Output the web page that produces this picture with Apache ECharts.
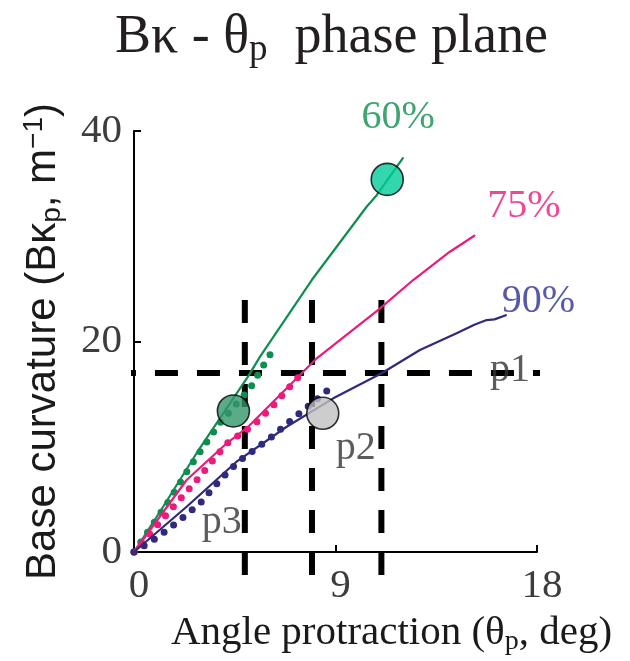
<!DOCTYPE html>
<html>
<head>
<meta charset="utf-8">
<script src="https://cdn.jsdelivr.net/npm/echarts@6/dist/echarts.min.js"></script>
<style>
html,body{margin:0;padding:0;background:#fff;}
#chart{width:630px;height:661px;}
</style>
</head>
<body>
<div id="chart"></div>
<script>
// ---- data ----
const xTicks = [0, 9, 18];
const yTicks = [0, 20, 40];

// measured curves (solid)
const curve60 = [[0,0],[1.30,4.30],[2.80,9.41],[5.09,16.66],[5.63,18.56],[7.94,25.84],[10.39,32.8],[10.84,33.9],[12.01,37.43]];
const curve75 = [[0,0],[2.35,6.84],[4.14,10.33],[5.1,11.9],[7.49,16.98],[8.16,18.4],[10.91,23.0],[12.47,25.84],[14.11,28.53],[15.2,30.05]];
const curve90 = [[0,0],[2.35,4.30],[4.58,8.58],[6.82,11.9],[8.9,14.6],[11.06,16.98],[12.77,19.19],[14.41,20.78],[15.2,21.6],[15.75,22.04],[16.1,22.1],[16.61,22.5]];

// model curves (dotted)
const model60 = [[0,0],[1.6,5.0],[2.5,8.1],[3.3,10.6],[3.85,12.3],[5.2,15.6],[5.8,17.8],[6.15,19.0]];
const model75 = [[0,0],[1.76,4.3],[2.87,7.0],[4.14,10.3],[5.36,12.1],[6.15,13.75],[6.89,15.55],[7.56,17.13]];
const model90 = [[0,0],[1.09,1.45],[2.05,3.04],[2.95,4.63],[3.84,6.84],[4.66,8.58],[6.22,11.05],[6.67,11.9],[7.15,12.76],[7.64,13.6],[8.57,15.23],[8.98,15.87]];

// reference dashed lines
const hLineY = 17;
const hLineX = [-0.94, 19.9];
const vLinesX = [4.95, 7.95, 11.05];
const vLineY = [23.94, -2.19];

// circles: 60% end marker, p3, p2
const circles = [[11.31, 35.4], [4.44, 13.4], [8.43, 13.18]];

// text annotations
const labelTexts = ['60%', '75%', '90%', 'p1', 'p2', 'p3'];
const labelPos = [[11.8, 41.3], [17.42, 32.87], [18.06, 23.78], [16.79, 17.24], [9.91, 9.88], [3.92, 2.76]];

// ---- styles ----
const GREEN = '#0e8e4e', PINK = '#ec1a7a', NAVY = '#2f2a7c';
const circleColors = ['#00cc99', '#33966a', '#c0c0c0'];
const labelColors = [GREEN, PINK, '#2e3192', '#333333', '#333333', '#333333'];
const SERIF = 'Liberation Serif', SANS = 'Liberation Sans';

const series = [];

// dashed reference lines
series.push({
  type: 'line', data: [[hLineX[0], hLineY], [hLineX[1], hLineY]],
  showSymbol: false, clip: false, silent: true, z: 1,
  lineStyle: { color: '#000', width: 6, type: [23, 19] }
});
vLinesX.forEach(function (x) {
  series.push({
    type: 'line', data: [[x, vLineY[0]], [x, vLineY[1]]],
    showSymbol: false, clip: false, silent: true, z: 1,
    lineStyle: { color: '#000', width: 6, type: [23, 19] }
  });
});

// dotted model curves
[[model60, GREEN], [model75, PINK], [model90, NAVY]].forEach(function (p) {
  series.push({
    type: 'line', data: p[0], showSymbol: false, clip: false, z: 2,
    lineStyle: { color: p[1], width: 7, type: [0, 12], cap: 'round', join: 'round' }
  });
});

// solid measured curves
[[curve60, GREEN], [curve75, PINK], [curve90, NAVY]].forEach(function (p) {
  series.push({
    type: 'line', data: p[0], showSymbol: false, clip: false, z: 3,
    lineStyle: { color: p[1], width: 2.2, cap: 'round', join: 'round' }
  });
});

// circles
series.push({
  type: 'scatter', z: 5, symbolSize: 32, clip: false,
  data: circles.map(function (c, i) {
    return { value: c, itemStyle: { color: circleColors[i], borderColor: '#000', borderWidth: 1.6 } };
  })
});

// annotations
series.push({
  type: 'scatter', z: 6, symbolSize: 0, silent: true, clip: false,
  data: labelTexts.map(function (t, i) {
    return {
      value: labelPos[i], name: t,
      label: { show: true, position: 'inside', formatter: t, color: labelColors[i],
               fontFamily: SERIF, fontSize: 40 }
    };
  })
});

const chart = echarts.init(document.getElementById('chart'), null, { renderer: 'canvas' });
chart.setOption({
  animation: false,
  backgroundColor: '#fff',
  title: {
    text: 'Bκ - θ{sub|p}  phase plane',
    left: 110, top: 1,
    textStyle: {
      fontFamily: SERIF, fontSize: 54, fontWeight: 'normal', color: '#231f20',
      rich: { sub: { fontFamily: SERIF, fontSize: 37, color: '#231f20', padding: [26, 0, 0, 0] } }
    }
  },
  grid: { left: 134, top: 131, width: 403, height: 421, containLabel: false },
  xAxis: {
    type: 'value', min: xTicks[0], max: xTicks[2], interval: xTicks[1] - xTicks[0],
    splitLine: { show: false },
    axisLine: { show: true, lineStyle: { color: '#000', width: 2 } },
    axisTick: { show: true, inside: true, length: 7, lineStyle: { color: '#000', width: 2 } },
    axisLabel: { fontFamily: SERIF, fontSize: 41, color: '#3d3d3d', margin: 14, padding: [0, 0, 0, 10] },
    name: 'Angle protraction (θ{sub|p}, deg)',
    nameLocation: 'middle', nameGap: 58,
    nameTextStyle: {
      fontFamily: SERIF, fontSize: 41, color: '#1a1a1a', padding: [0, 0, 0, 112],
      rich: { sub: { fontFamily: SERIF, fontSize: 28, color: '#1a1a1a', padding: [18, 0, 0, 0] } }
    }
  },
  yAxis: {
    type: 'value', min: yTicks[0], max: yTicks[2], interval: yTicks[1] - yTicks[0],
    splitLine: { show: false },
    axisLine: { show: true, lineStyle: { color: '#000', width: 2 } },
    axisTick: { show: true, inside: true, length: 7, lineStyle: { color: '#000', width: 2 } },
    axisLabel: { fontFamily: SERIF, fontSize: 41, color: '#3d3d3d', margin: 12 },
    name: 'Base curvature (Bκ{sub|p}, m{sup|−1})',
    nameLocation: 'middle', nameGap: 68, nameRotate: 90,
    nameTextStyle: {
      fontFamily: SANS, fontSize: 42, color: '#1a1a1a',
      rich: {
        sub: { fontFamily: SANS, fontSize: 28, color: '#1a1a1a', padding: [18, 0, 0, 0] },
        sup: { fontFamily: SANS, fontSize: 28, color: '#1a1a1a', padding: [0, 0, 18, 0] }
      }
    }
  },
  series: series
});
</script>
</body>
</html>
